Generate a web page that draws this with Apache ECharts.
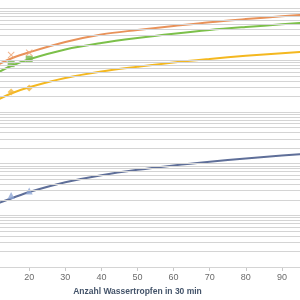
<!DOCTYPE html>
<html>
<head>
<meta charset="utf-8">
<script src="https://cdn.jsdelivr.net/npm/echarts@6/dist/echarts.min.js"></script>
<style>html,body{margin:0;padding:0;background:#fff;overflow:hidden;width:300px;height:300px;position:relative}
#c{position:absolute;left:-60px;top:-60px;width:400px;height:400px}</style>
</head>
<body>
<div id="c"></div>
<script>
// Trend line sample positions (x) and values
const trendX = [10, 15, 20, 30, 40, 50, 60, 70, 80, 90, 100];
const orangeTrend = [7430, 10840, 14290, 22640, 31620, 38640, 46140, 54700, 62810, 71120, 79500];
const greenTrend  = [5200, 7760, 10470, 16200, 21630, 27040, 32740, 38640, 44160, 49790, 55700];
const yellowTrend = [1560, 2280, 3006, 4530, 6050, 7500, 9120, 10660, 12240, 13750, 15300];
const blueTrend   = [15.8, 21.2, 28.3, 43.8, 59.8, 76.1, 92.5, 109.1, 125.9, 143.3, 160.8];

// Measured points
const pointX = [15, 20];
const orangePts = [12680, 13990];
const greenPts  = [8610, 10520];
const yellowPts = [2440, 2912];
const bluePts   = [24.2, 29.6];

// Axis
const xTickLabels = [0, 10, 20, 30, 40, 50, 60, 70, 80, 90, 100];
const decades = [1, 10, 100, 1000, 10000, 100000];
const minorSteps = [1, 2, 3, 4, 5, 6, 7, 8, 9];
const xTitle = 'Anzahl Wassertropfen in 30 min';

const gridValues = [];
decades.forEach(d => minorSteps.forEach(k => gridValues.push(d * k)));
gridValues.push(1000000);

const zip = (xs, ys) => ys.map((v, i) => [xs[i], v]);
const crossPath = 'path://M0,1L1,0L5,4L9,0L10,1L6,5L10,9L9,10L5,6L1,10L0,9L4,5Z';

function trend(data, color) {
  return { type: 'line', data: zip(trendX, data), smooth: 0.35, showSymbol: false, symbol: 'none',
    lineStyle: { color: color, width: 2 }, z: 3, silent: true, animation: false };
}
function pts(data, color, symbol, size) {
  return { type: 'scatter', data: zip(pointX, data), symbol: symbol, symbolSize: size,
    itemStyle: { color: color }, z: 4, silent: true, animation: false };
}

const chart = echarts.init(document.getElementById('c'), null, { renderer: 'canvas' });
chart.setOption({
  animation: false,
  backgroundColor: '#ffffff',
  grid: { left: 17, width: 361, top: 17, height: 310, containLabel: false },
  xAxis: {
    type: 'value', min: 0, max: 100, interval: 10,
    axisLine: { show: true, lineStyle: { color: '#c8c8c8', width: 1 } },
    axisTick: { show: true, length: 4, lineStyle: { color: '#c8c8c8' } },
    axisLabel: { color: '#6b6b6b', fontSize: 9, fontFamily: 'Liberation Sans', margin: 6,
      formatter: v => (xTickLabels.indexOf(v) >= 0 ? String(v) : '') },
    splitLine: { show: false },
    name: xTitle, nameLocation: 'middle', nameGap: 18,
    nameTextStyle: { color: '#44546a', fontSize: 8.5, fontWeight: 'bold', fontFamily: 'Liberation Sans' }
  },
  yAxis: {
    type: 'log', logBase: 10, min: 1, max: 1000000,
    axisLine: { show: false }, axisTick: { show: false }, axisLabel: { show: false },
    splitLine: { show: false }
  },
  series: [
    { type: 'line', data: [], z: 1, silent: true,
      markLine: { silent: true, symbol: 'none', animation: false, label: { show: false },
        lineStyle: { color: '#d4d4d4', width: 1, type: 'solid' },
        data: gridValues.map(v => ({ yAxis: v })) } },
    trend(blueTrend, '#5f6f99'),
    trend(yellowTrend, '#f4b820'),
    trend(greenTrend, '#7cc04a'),
    trend(orangeTrend, '#e8925a'),
    pts(bluePts, '#8ea6d4', 'triangle', 7),
    pts(yellowPts, '#f2b73a', 'diamond', 7),
    pts(greenPts, '#77b74a', 'rect', 7),
    pts(orangePts, '#eea272', crossPath, 7)
  ]
});
</script>
</body>
</html>
